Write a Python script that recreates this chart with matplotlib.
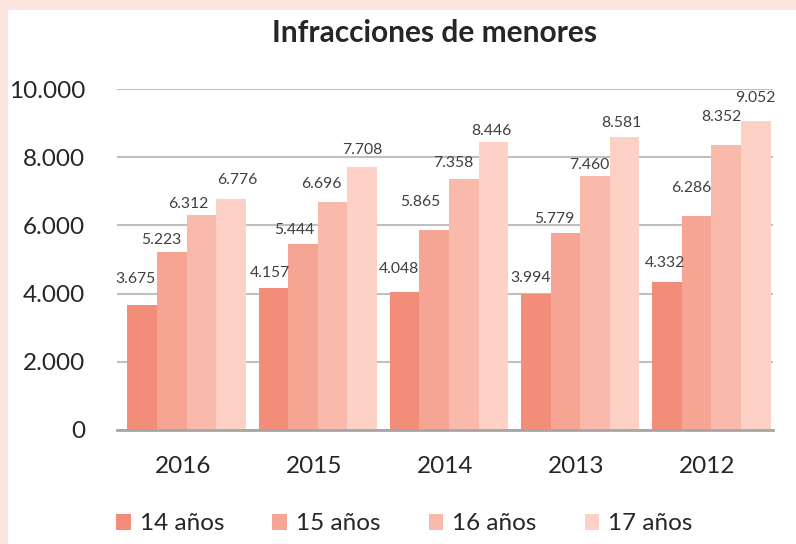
#!/usr/bin/env python3
"""Bar chart: Infracciones de menores por edad y año."""

import matplotlib
matplotlib.use("Agg")
import matplotlib.pyplot as plt
import numpy as np
from matplotlib.patches import Rectangle
from matplotlib.ticker import FuncFormatter

plt.rcParams["font.family"] = ["Lato", "DejaVu Sans"]

YEARS = ["2016", "2015", "2014", "2013", "2012"]
SERIES = ["14 años", "15 años", "16 años", "17 años"]
AGE_14 = [3675, 4157, 4048, 3994, 4332]
AGE_15 = [5223, 5444, 5865, 5779, 6286]
AGE_16 = [6312, 6696, 7358, 7460, 8352]
AGE_17 = [6776, 7708, 8446, 8581, 9052]

COLORS = ["#F28D7A", "#F6A494", "#FABAAB", "#FDD1C6"]

# label nudges (pixels) per series, per year -- mimics the hand-placed labels
LABEL_DX = [
    [-7, -3, -6, -5, -2],
    [-10, -9, -14, -11, -5],
    [-13, -11, -10, -6, -5],
    [6, 0, -2, -3, 0],
]
LABEL_DY = [
    [26, 15, 23, 16, 19],
    [12, 14, 28, 14, 28],
    [11, 18, 16, 11, 28],
    [19, 17, 11, 14, 23],
]

W, H = 796, 544


def thousands(value, _pos):
    return f"{int(value):,}".replace(",", ".")


def main() -> None:
    fig = plt.figure(figsize=(W / 100, H / 100), dpi=100, facecolor="#FDE5E0")
    fig.patches.append(
        Rectangle((8 / W, 0), 1, 1 - 10 / H, transform=fig.transFigure,
                  facecolor="white", edgecolor="none", zorder=-10)
    )
    ax = fig.add_axes([117 / W, 1 - 430 / H, (773 - 117) / W, (430 - 89) / H])
    ax.set_facecolor("none")

    values = [AGE_14, AGE_15, AGE_16, AGE_17]
    x = np.arange(len(YEARS))
    width = 0.2256
    shift = 0.03
    for i, (name, vals, color) in enumerate(zip(SERIES, values, COLORS)):
        pos = x + shift + (i - 1.5) * width
        ax.bar(pos, vals, width=width, color=color, label=name, zorder=2)
        for j, (px, v) in enumerate(zip(pos, vals)):
            ax.annotate(
                thousands(v, None),
                (px, v),
                xytext=(LABEL_DX[i][j], LABEL_DY[i][j]),
                textcoords="offset pixels",
                ha="center",
                va="center",
                fontsize=11.3,
                color="#404040",
            )

    ax.set_xlim(-0.5, 4.5)
    ax.set_ylim(0, 10000)
    ax.set_yticks(range(0, 10001, 2000))
    ax.yaxis.set_major_formatter(FuncFormatter(thousands))
    ax.set_xticks(x)
    ax.set_xticklabels(YEARS)
    ax.tick_params(axis="both", length=0, labelsize=17.5, colors="#262626")
    ax.tick_params(axis="y", pad=23)
    ax.tick_params(axis="x", pad=19)
    ax.grid(axis="y", color="#BFBFBF", linewidth=1.5, zorder=1)
    for side in ("top", "right", "left"):
        ax.spines[side].set_visible(False)
    ax.spines["bottom"].set_color("#A6A6A6")
    ax.spines["bottom"].set_linewidth(2)
    ax.spines["bottom"].set_zorder(3)

    fig.text(434 / W, 1 - 42 / H, "Infracciones de menores", ha="center", va="baseline",
             fontsize=21.5, fontweight="bold", color="#262626")

    fig.legend(
        loc="center left",
        bbox_to_anchor=(104 / W, 1 - 524 / H),
        ncol=4,
        frameon=False,
        fontsize=17.5,
        handlelength=0.6,
        handleheight=0.6,
        handletextpad=0.38,
        columnspacing=1.97,
        borderpad=0,
        labelcolor="#262626",
    )

    fig.savefig("out.png", dpi=100, facecolor=fig.get_facecolor())


if __name__ == "__main__":
    main()
